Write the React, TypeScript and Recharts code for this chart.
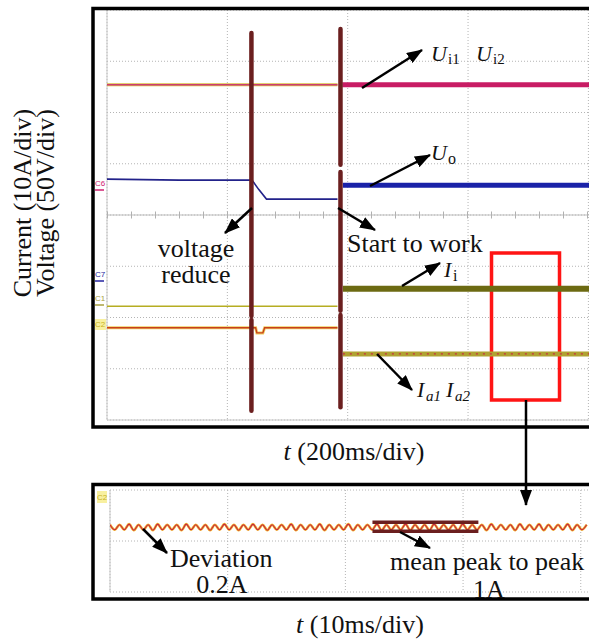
import {
  CartesianGrid,
  Line,
  LineChart,
  ReferenceArea,
  ReferenceLine,
  XAxis,
  YAxis,
} from 'recharts';

const SERIF = '"Liberation Serif", "Times New Roman", serif';

type Pt = [number, number];
const pts = (a: Pt[]) => a.map(([t, v]) => ({ t, v }));

// --- top scope: t in ms (200 ms/div), values in divisions (10 A/div, 50 V/div)
const TOP_X_TICKS = [0, 200, 400, 600, 800];
const TOP_Y_TICKS = [-4, -3, -2, -1, 0, 1, 2, 3, 4];

const ui12Idle: Pt[] = [[0, 2.54], [383, 2.54]];
const ui12Run: Pt[] = [[391, 2.54], [801, 2.54]];
const uoIdle: Pt[] = [[0, 0.7], [120, 0.68], [241, 0.68], [252, 0.5], [265, 0.31], [383, 0.31]];
const uoRun: Pt[] = [[392, 0.58], [801, 0.58]];
const c1Idle: Pt[] = [[0, -1.78], [383, -1.78]];
const iiRun: Pt[] = [[392, -1.44], [801, -1.44]];
const c2Idle: Pt[] = [[0, -2.2], [247, -2.2], [249, -2.3], [259, -2.3], [262, -2.2], [383, -2.2]];
const iaRun: Pt[] = [[392, -2.71], [801, -2.71]];

// event markers (time, list of [top, bottom] pieces)
const voltageReduceAt = 240;
const voltageReduceBar: Pt[] = [[3.55, -1.97], [-2.05, -3.82]];
const startWorkAt = 388;
const startWorkBar: Pt[] = [[3.63, 0.98], [0.84, -1.87], [-1.95, -3.75]];

// zoomed window
const zoomWin = { t1: 639, t2: 752, y1: -0.74, y2: -3.61 };

// --- bottom scope: t in ms (10 ms/div)
const BOT_X_TICKS = [0, 10, 20, 30, 40];
const BOT_Y_TICKS = [-1, 0, 1];
const rippleStep = 0.405;
const iaRipple = [
  0.32, 0.22, 0.32, 0.22, 0.33, 0.21, 0.32, 0.22, 0.32, 0.21,
  0.33, 0.22, 0.32, 0.22, 0.32, 0.21, 0.33, 0.22, 0.32, 0.22,
  0.32, 0.21, 0.32, 0.22, 0.33, 0.22, 0.32, 0.21, 0.32, 0.22,
  0.33, 0.22, 0.32, 0.21, 0.32, 0.22, 0.32, 0.22, 0.33, 0.21,
  0.32, 0.22, 0.32, 0.22, 0.33, 0.21, 0.32, 0.22, 0.32, 0.22,
  0.33, 0.21, 0.32, 0.22, 0.32, 0.22, 0.33, 0.21, 0.32, 0.22,
  0.32, 0.22, 0.33, 0.21, 0.32, 0.22, 0.32, 0.21, 0.33, 0.22,
  0.32, 0.22, 0.32, 0.21, 0.33, 0.22, 0.32, 0.22, 0.32, 0.21,
  0.33, 0.22, 0.32, 0.22, 0.32, 0.21, 0.33, 0.22, 0.32, 0.22,
  0.33, 0.21, 0.32, 0.22, 0.32, 0.22, 0.33, 0.21, 0.32, 0.22,
  0.32,
];
const rippleData = iaRipple.map((v, i) => ({ t: i * rippleStep, v }));
const peakBand = { t1: 22.3, t2: 31.3, hi: 0.37, lo: 0.19 };

const BROWN = '#6b1f1f';
const GRID = '#b4b4b4';

function TopScope() {
  return (
    <LineChart width={589} height={430} margin={{ top: 10, right: 0, bottom: 10, left: 107 }}>
      <XAxis type="number" dataKey="t" domain={[0, 801]} ticks={TOP_X_TICKS} hide allowDataOverflow />
      <YAxis type="number" dataKey="v" domain={[-4, 4]} ticks={TOP_Y_TICKS} hide allowDataOverflow />
      <CartesianGrid
        stroke={GRID}
        strokeDasharray="1 2"
        horizontalValues={TOP_Y_TICKS}
        verticalValues={TOP_X_TICKS}
      />
      <ReferenceLine x={0} stroke="#c8c8c8" />
      <ReferenceLine y={-4} stroke="#c8c8c8" />
      <ReferenceLine y={0} stroke="#bdbdbd" />
      <ReferenceLine y={0} stroke="#b0b0b0" strokeWidth={7} strokeDasharray="1 23" />

      <Line data={pts(ui12Idle)} dataKey="v" stroke="#d8c040" strokeWidth={3} dot={false} isAnimationActive={false} />
      <Line data={pts(ui12Idle)} dataKey="v" stroke="#cc3d74" strokeWidth={1.5} dot={false} isAnimationActive={false} />
      <Line data={pts(ui12Run)} dataKey="v" stroke="#c81c64" strokeWidth={5} dot={false} isAnimationActive={false} />

      <Line data={pts(uoIdle)} dataKey="v" stroke="#22228a" strokeWidth={1.6} dot={false} isAnimationActive={false} />
      <Line data={pts(uoRun)} dataKey="v" stroke="#1a22a8" strokeWidth={5} dot={false} isAnimationActive={false} />

      <Line data={pts(c1Idle)} dataKey="v" stroke="#b6ad22" strokeWidth={1.6} dot={false} isAnimationActive={false} />
      <Line data={pts(iiRun)} dataKey="v" stroke="#6c6a12" strokeWidth={6} dot={false} isAnimationActive={false} />

      <Line data={pts(c2Idle)} dataKey="v" stroke="#f0d060" strokeWidth={3} dot={false} isAnimationActive={false} />
      <Line data={pts(c2Idle)} dataKey="v" stroke="#c8401c" strokeWidth={1.4} dot={false} isAnimationActive={false} />
      <Line data={pts(iaRun)} dataKey="v" stroke="#b0a232" strokeWidth={5} dot={false} isAnimationActive={false} />
      <Line data={pts(iaRun)} dataKey="v" stroke="#c83040" strokeWidth={1.2} strokeDasharray="2 5" dot={false} isAnimationActive={false} />

      {voltageReduceBar.map(([a, b], i) => (
        <ReferenceLine
          key={`vr${i}`}
          segment={[{ x: voltageReduceAt, y: a }, { x: voltageReduceAt, y: b }]}
          stroke={BROWN}
          strokeWidth={4.5}
          strokeLinecap="round"
        />
      ))}
      {startWorkBar.map(([a, b], i) => (
        <ReferenceLine
          key={`sw${i}`}
          segment={[{ x: startWorkAt, y: a }, { x: startWorkAt, y: b }]}
          stroke={BROWN}
          strokeWidth={4.5}
          strokeLinecap="round"
        />
      ))}
      <ReferenceArea
        x1={zoomWin.t1}
        x2={zoomWin.t2}
        y1={zoomWin.y1}
        y2={zoomWin.y2}
        fill="none"
        fillOpacity={0}
        stroke="#ff1414"
        strokeWidth={3.5}
      />
    </LineChart>
  );
}

function BottomScope() {
  return (
    <LineChart width={589} height={122} margin={{ top: 10, right: 0, bottom: 10, left: 110 }}>
      <XAxis type="number" dataKey="t" domain={[0, 40.7]} ticks={BOT_X_TICKS} hide allowDataOverflow />
      <YAxis type="number" dataKey="v" domain={[-1, 1]} ticks={BOT_Y_TICKS} hide allowDataOverflow />
      <CartesianGrid
        stroke={GRID}
        strokeDasharray="1 2"
        horizontalValues={BOT_Y_TICKS}
        verticalValues={BOT_X_TICKS}
      />
      <ReferenceLine x={0} stroke="#c8c8c8" />
      <Line data={rippleData} dataKey="v" type="monotone" stroke="#f2b42a" strokeWidth={2.6} dot={false} isAnimationActive={false} />
      <Line data={rippleData} dataKey="v" type="monotone" stroke="#c41e46" strokeWidth={1.1} dot={false} isAnimationActive={false} />
      {[peakBand.hi, peakBand.lo].map((y) => (
        <ReferenceLine
          key={y}
          segment={[{ x: peakBand.t1, y }, { x: peakBand.t2, y }]}
          stroke={BROWN}
          strokeWidth={3.5}
        />
      ))}
    </LineChart>
  );
}

const ARROWS: [number, number, number, number][] = [
  [362, 88, 422, 50],
  [370, 186, 430, 155],
  [252, 208, 225, 233],
  [338, 208, 375, 230],
  [402, 286, 440, 263],
  [377, 354, 412, 390],
  [526, 400, 526, 505],
  [143, 529, 167, 553],
  [400, 532, 430, 548],
];

function Overlay() {
  const txt = { fontFamily: SERIF, fill: '#111' };
  return (
    <svg
      width={589}
      height={640}
      style={{ position: 'absolute', left: 0, top: 0, pointerEvents: 'none' }}
    >
      <defs>
        <marker
          id="ah"
          markerUnits="userSpaceOnUse"
          markerWidth={16}
          markerHeight={12}
          refX={15}
          refY={6}
          orient="auto"
        >
          <path d="M0,0 L16,6 L0,12 z" fill="#000" />
        </marker>
      </defs>

      {/* scope frames */}
      <rect x={93} y={8.5} width={600} height={418.5} fill="none" stroke="#000" strokeWidth={3.5} />
      <rect x={93} y={484.5} width={600} height={114.5} fill="none" stroke="#000" strokeWidth={3.5} />

      {/* channel tags */}
      <g fontFamily="Arial, sans-serif" fontSize={8}>
        <text x={95} y={186} fill="#d02070">C6</text>
        <line x1={95} y1={190} x2={104} y2={190} stroke="#d02070" strokeWidth={1.5} />
        <text x={95} y={277} fill="#2424a0">C7</text>
        <line x1={95} y1={281} x2={104} y2={281} stroke="#2424a0" strokeWidth={1.5} />
        <text x={95} y={301} fill="#a8a040">C1</text>
        <line x1={95} y1={305} x2={104} y2={305} stroke="#a8a040" strokeWidth={1.5} />
        <rect x={95} y={319} width={11} height={11} fill="#f8f0a0" />
        <text x={95} y={327} fill="#c8b020">C2</text>
        <rect x={97} y={491} width={10} height={12} fill="#f8f0a0" />
        <text x={97} y={500} fill="#c8b020">C2</text>
      </g>

      {ARROWS.map(([x1, y1, x2, y2], i) => (
        <line key={i} x1={x1} y1={y1} x2={x2} y2={y2} stroke="#000" strokeWidth={2.5} markerEnd="url(#ah)" />
      ))}

      {/* y label */}
      <g {...txt} fontSize={26} textAnchor="middle">
        <text x={31} y={203} transform="rotate(-90 31 203)">Current (10A/div)</text>
        <text x={54} y={203} transform="rotate(-90 54 203)">Voltage (50V/div)</text>
      </g>

      {/* signal names */}
      <g {...txt} fontSize={22}>
        <text x={431} y={61} fontStyle="italic">U</text>
        <text x={448} y={64} fontSize={15}>i1</text>
        <text x={476} y={61} fontStyle="italic">U</text>
        <text x={493} y={64} fontSize={15}>i2</text>

        <text x={431} y={160} fontStyle="italic">U</text>
        <text x={448} y={164} fontSize={16}>o</text>

        <text x={444} y={277} fontStyle="italic">I</text>
        <text x={453} y={281} fontSize={16}>i</text>

        <text x={417} y={397} fontStyle="italic">I</text>
        <text x={426} y={401} fontSize={15} fontStyle="italic">a1</text>
        <text x={446} y={397} fontStyle="italic">I</text>
        <text x={455} y={401} fontSize={15} fontStyle="italic">a2</text>
      </g>

      <g {...txt} fontSize={26}>
        <text x={196} y={257} textAnchor="middle">voltage</text>
        <text x={196} y={283} textAnchor="middle">reduce</text>

        <text x={347} y={252}>Start to work</text>

        <text x={354} y={460} textAnchor="middle">
          <tspan fontStyle="italic">t</tspan> (200ms/div)
        </text>

        <text x={170} y={567}>Deviation</text>
        <text x={222} y={593} textAnchor="middle">0.2A</text>
        <text x={390} y={570}>mean peak to peak</text>
        <text x={489} y={598} textAnchor="middle">1A</text>

        <text x={360} y={633} textAnchor="middle">
          <tspan fontStyle="italic">t</tspan> (10ms/div)
        </text>
      </g>
    </svg>
  );
}

export default function App() {
  return (
    <div
      style={{
        position: 'absolute',
        left: 0,
        top: 0,
        width: 589,
        height: 640,
        overflow: 'hidden',
        background: '#fff',
      }}
    >
      <div style={{ position: 'absolute', left: 0, top: 0 }}>
        <TopScope />
      </div>
      <div style={{ position: 'absolute', left: 0, top: 480 }}>
        <BottomScope />
      </div>
      <Overlay />
    </div>
  );
}
